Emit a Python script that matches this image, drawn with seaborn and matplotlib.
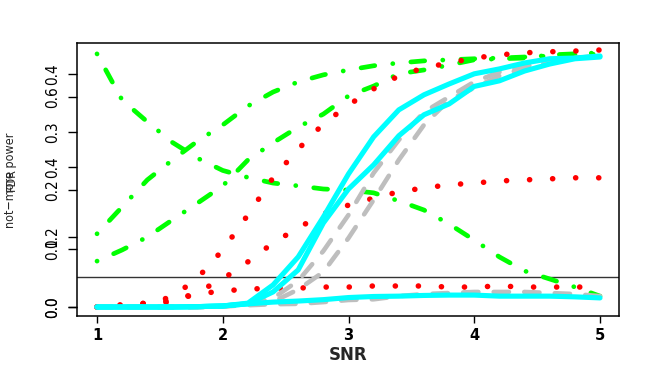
import matplotlib
matplotlib.use("Agg")
import matplotlib.pyplot as plt
import seaborn as sns
import pandas as pd

# SNR grid
snr = [1.0, 1.2, 1.4, 1.6, 1.8, 2.0, 2.2, 2.4, 2.6, 2.8, 3.0,
       3.2, 3.4, 3.6, 3.8, 4.0, 4.2, 4.4, 4.6, 4.8, 5.0]

# green dot-dash curves
green_down = [0.723, 0.591, 0.529, 0.47, 0.425, 0.39, 0.37, 0.354, 0.346, 0.337, 0.334,
              0.326, 0.303, 0.277, 0.237, 0.191, 0.143, 0.103, 0.08, 0.057, 0.031]
green_up1 = [0.209, 0.286, 0.363, 0.42, 0.474, 0.52, 0.574, 0.614, 0.643, 0.663, 0.677,
             0.689, 0.697, 0.703, 0.706, 0.709, 0.711, 0.714, 0.717, 0.72, 0.723]
green_up2 = [0.131, 0.163, 0.2, 0.249, 0.297, 0.346, 0.42, 0.469, 0.514, 0.551, 0.603,
             0.631, 0.666, 0.677, 0.691, 0.706, 0.709, 0.711, 0.72, 0.723, 0.726]

# red dotted curves
red_top = [0.0, 0.006, 0.011, 0.029, 0.083, 0.163, 0.263, 0.369, 0.451, 0.523, 0.577,
           0.623, 0.66, 0.683, 0.697, 0.711, 0.72, 0.726, 0.729, 0.731, 0.734]
red_mid = [0.0, 0.006, 0.011, 0.014, 0.043, 0.08, 0.129, 0.183, 0.226, 0.266, 0.291,
           0.311, 0.329, 0.34, 0.349, 0.354, 0.36, 0.363, 0.366, 0.369, 0.369]
red_low = [0.0, 0.003, 0.008, 0.02, 0.037, 0.046, 0.051, 0.054, 0.054, 0.057, 0.057,
           0.06, 0.06, 0.06, 0.057, 0.057, 0.06, 0.057, 0.057, 0.057, 0.057]

# gray dashed curves
gray_1 = [0, 0, 0, 0, 0, 0.002, 0.008, 0.025, 0.075, 0.16, 0.263,
          0.383, 0.477, 0.557, 0.6, 0.643, 0.671, 0.686, 0.703, 0.711, 0.717]
gray_2 = [0, 0, 0, 0, 0, 0.002, 0.006, 0.015, 0.05, 0.1, 0.197,
          0.306, 0.42, 0.52, 0.591, 0.626, 0.66, 0.683, 0.7, 0.711, 0.717]
gray_3 = [0, 0, 0, 0, 0, 0.002, 0.005, 0.008, 0.009, 0.014, 0.02,
          0.022, 0.031, 0.037, 0.04, 0.043, 0.043, 0.043, 0.04, 0.037, 0.031]

# cyan solid curves
cyan_1 = [0, 0, 0, 0, 0.001, 0.003, 0.011, 0.063, 0.143, 0.257, 0.38,
          0.486, 0.563, 0.606, 0.637, 0.666, 0.68, 0.697, 0.709, 0.711, 0.717]
cyan_2 = [0, 0, 0, 0, 0.001, 0.003, 0.009, 0.043, 0.106, 0.24, 0.337,
          0.406, 0.489, 0.549, 0.58, 0.63, 0.646, 0.674, 0.694, 0.709, 0.714]
cyan_3 = [0, 0, 0, 0, 0.001, 0.003, 0.009, 0.014, 0.017, 0.021, 0.027,
          0.03, 0.031, 0.033, 0.034, 0.034, 0.031, 0.031, 0.031, 0.029, 0.026]

ref_level = 0.0857

# two overlaid left axes (tick labels)
ticks_a = [0.0, 0.2, 0.4, 0.6]
ticks_b = [0.0, 0.1, 0.2, 0.3, 0.4]
x_ticks = [1, 2, 3, 4, 5]

sns.set_theme(style="ticks")
plt.rcParams['font.family'] = ['DejaVu Sans']
plt.rcParams['lines.scale_dashes'] = False

fig = plt.figure(figsize=(6.59, 3.71), dpi=100)
ax = fig.add_axes([77 / 659, 55 / 371, 542 / 659, 273 / 371])

ax.axhline(ref_level, color='#333333', lw=1.0, zorder=1)

dotdash = (0, (0.1, 13, 10, 13))
dotted = (0, (0.1, 16.5))
dashed = (0, (11, 11))

series = [
    (green_down, '#00FF00', dotdash, 3.4),
    (green_up1, '#00FF00', dotdash, 3.4),
    (green_up2, '#00FF00', dotdash, 3.4),
    (red_top, '#FF0000', dotted, 4.0),
    (red_mid, '#FF0000', dotted, 4.0),
    (red_low, '#FF0000', dotted, 4.0),
    (gray_1, '#BEBEBE', dashed, 3.3),
    (gray_2, '#BEBEBE', dashed, 3.3),
    (gray_3, '#BEBEBE', dashed, 3.3),
    (cyan_1, '#00FFFF', '-', 3.7),
    (cyan_2, '#00FFFF', '-', 3.7),
    (cyan_3, '#00FFFF', '-', 3.7),
]
for i, (vals, col, ls, lw) in enumerate(series):
    df = pd.DataFrame({'SNR': snr, 'val': vals})
    sns.lineplot(data=df, x='SNR', y='val', ax=ax, color=col, lw=lw, linestyle=ls,
                 dash_capstyle='round', solid_capstyle='round', solid_joinstyle='round',
                 sort=False, zorder=2 + i)

ax.set_xlim(0.841, 5.151)
ax.set_ylim(-0.0257, 0.754)
for s in ax.spines.values():
    s.set_color('black')
    s.set_linewidth(1.1)

ax.set_xticks(x_ticks)
ax.set_xticklabels([str(t) for t in x_ticks], fontsize=10.5, fontweight='bold')
ax.tick_params(axis='x', length=5, width=1, pad=3.5, colors='black')
ax.set_xlabel('SNR', fontsize=12, fontweight='bold', labelpad=2)
ax.set_ylabel('')

ax.set_yticks(ticks_a)
ax.set_yticklabels([f'{t:.1f}' for t in ticks_a], rotation=90, va='center',
                   fontsize=11, fontstretch='condensed')
ax.tick_params(axis='y', length=6.5, width=1, pad=5.5, colors='black')

ax2 = ax.twinx()
ax2.set_ylim(-0.01545, 0.4532)
ax2.yaxis.tick_left()
ax2.set_yticks(ticks_b)
ax2.set_yticklabels([f'{t:.1f}' for t in ticks_b], rotation=90, va='center',
                    fontsize=11, fontstretch='condensed')
ax2.tick_params(axis='y', length=6.5, width=1, pad=5.5, colors='black')
for s in ax2.spines.values():
    s.set_visible(False)

# overlapping y labels from the stacked plots
fig.text(11 / 659, 1 - 180 / 371, 'not\u2212more power', rotation=90, ha='center',
         va='center', fontsize=9, fontstretch='condensed')
fig.text(11 / 659, 1 - 180 / 371, 'FDR', rotation=90, ha='center', va='center',
         fontsize=9, fontstretch='condensed')

fig.savefig('out.png', dpi=100)
